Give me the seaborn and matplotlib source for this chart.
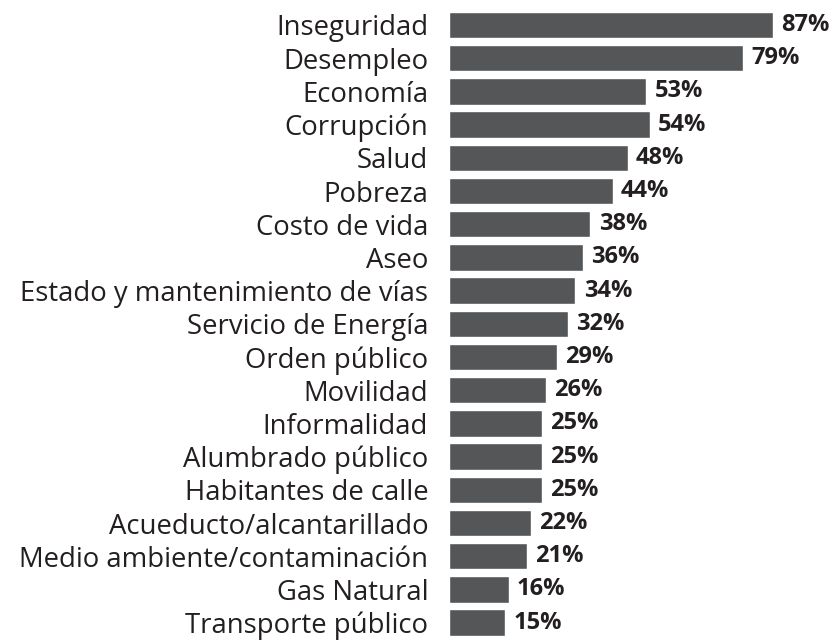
import matplotlib
matplotlib.use("Agg")
import matplotlib.pyplot as plt
import pandas as pd
import seaborn as sns

categorias = [
    "Inseguridad", "Desempleo", "Economía", "Corrupción", "Salud", "Pobreza",
    "Costo de vida", "Aseo", "Estado y mantenimiento de vías",
    "Servicio de Energía", "Orden público", "Movilidad", "Informalidad",
    "Alumbrado público", "Habitantes de calle", "Acueducto/alcantarillado",
    "Medio ambiente/contaminación", "Gas Natural", "Transporte público",
]
porcentajes = [87, 79, 53, 54, 48, 44, 38, 36, 34, 32, 29, 26, 25, 25, 25, 22, 21, 16, 15]

df = pd.DataFrame({"categoria": categorias, "pct": porcentajes})

sns.set_style("white")
plt.rcParams["font.family"] = ["Open Sans", "DejaVu Sans"]

fig = plt.figure(figsize=(8.37, 6.41), dpi=100)
ax = fig.add_axes([449 / 837, 0, 388 / 837, 1])

sns.barplot(data=df, x="pct", y="categoria", orient="h",
            color="#555658", saturation=1, width=0.8, ax=ax)

# pixel-like scale: ~3.72 px per percent, rows ~33.2 px apart
ax.set_xlim(0, 388 / 3.72)
ax.set_ylim((641 - 25) / 33.2, -25 / 33.2)

ax.bar_label(ax.containers[0], fmt="%d%%", padding=6,
             fontsize=17, fontweight="bold", color="#231f20")

ax.set_xlabel("")
ax.set_ylabel("")
ax.set_xticks([])
ax.tick_params(axis="y", length=0, pad=15, labelsize=19.8, labelcolor="#231f20")
sns.despine(ax=ax, left=True, bottom=True)

fig.savefig("out.png", dpi=100)
